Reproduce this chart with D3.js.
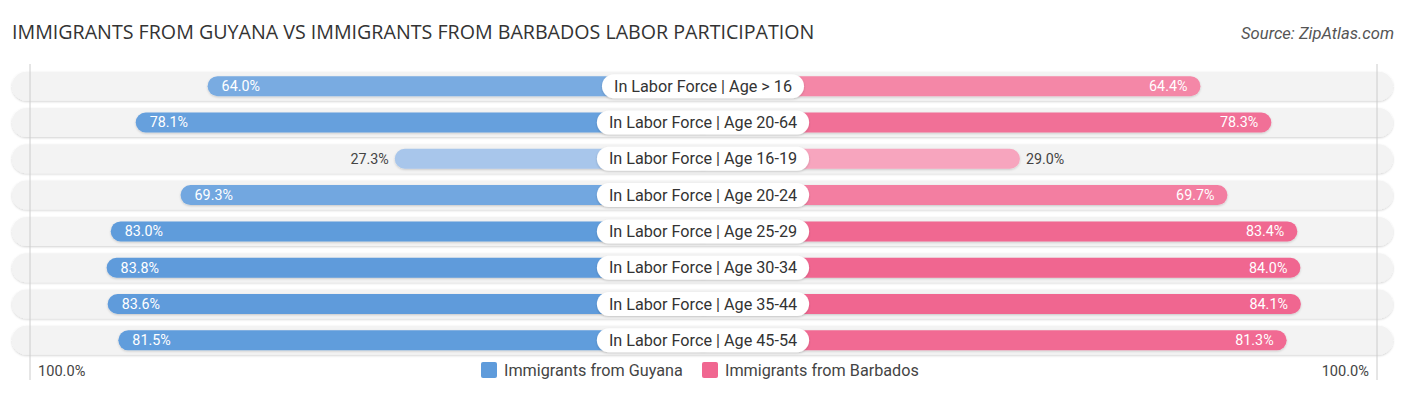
<!DOCTYPE html>
<html><head><meta charset="utf-8">
<script src="https://cdn.jsdelivr.net/npm/d3@7"></script>
<style>body{margin:0;background:#fff;}svg{display:block;}</style>
</head><body>
<script>
const categories = ["In Labor Force | Age > 16","In Labor Force | Age 20-64","In Labor Force | Age 16-19","In Labor Force | Age 20-24","In Labor Force | Age 25-29","In Labor Force | Age 30-34","In Labor Force | Age 35-44","In Labor Force | Age 45-54"];
const guyana = [64.0, 78.1, 27.3, 69.3, 83.0, 83.8, 83.6, 81.5];
const barbados = [64.4, 78.3, 29.0, 69.7, 83.4, 84.0, 84.1, 81.3];
const seriesNames = ["Immigrants from Guyana", "Immigrants from Barbados"];
const axisLabels = ["100.0%", "100.0%"];
const title = "IMMIGRANTS FROM GUYANA VS IMMIGRANTS FROM BARBADOS LABOR PARTICIPATION";
const source = "Source: ZipAtlas.com";

const W = 1406, H = 395, cx = 703;
const svg = d3.select("body").append("svg").attr("width", W).attr("height", H);

const xL = d3.scaleLinear().domain([0, 100]).range([534, 24]);
const xR = d3.scaleLinear().domain([0, 100]).range([872, 1382]);
const y = d3.scaleBand().domain(categories).range([68, 358.5]).paddingInner(0);
const bh = 20, th = 29;

const blue = d3.scaleLinear().domain([25, 65, 84]).range(["#abc8ec", "#78aae1", "#5e9bdb"]);
const pink = d3.scaleLinear().domain([25, 65, 84]).range(["#f7a8c1", "#f486a7", "#f06690"]);

function fitText(t, target, base) {
  const w = t.node().getComputedTextLength();
  t.attr("font-size", base * target / w);
}

// title & source
const tt = svg.append("text").attr("x", 12).attr("y", 39).text(title)
  .attr("font-family", "'Open Sans', Lato, sans-serif").attr("font-size", 17).attr("fill", "#333");
fitText(tt, 803, 17);
const st = svg.append("text").attr("x", 1394).attr("y", 39).attr("text-anchor", "end").text(source)
  .attr("font-family", "Roboto, sans-serif").attr("font-size", 14).attr("font-style", "italic").attr("fill", "#555");
fitText(st, 153, 14);

const defs = svg.append("defs");
const f = defs.append("filter").attr("id", "sh").attr("x", "-10%").attr("y", "-30%").attr("width", "120%").attr("height", "160%");
f.append("feDropShadow").attr("dx", 0).attr("dy", 1).attr("stdDeviation", 1).attr("flood-color", "#000").attr("flood-opacity", 0.18);

const rows = svg.selectAll("g.row").data(categories).join("g").attr("class", "row")
  .attr("transform", d => `translate(0,${y(d) + y.bandwidth() / 2})`);

// tracks
rows.append("rect").attr("x", 12).attr("y", -th / 2).attr("width", 1393 - 12).attr("height", th)
  .attr("rx", th / 2).attr("fill", "#f3f3f3").attr("filter", "url(#sh)");

// vertical guide lines
svg.append("line").attr("x1", 30).attr("x2", 30).attr("y1", 64).attr("y2", 380).attr("stroke", "#ccc").attr("stroke-width", 1);
svg.append("line").attr("x1", 1377).attr("x2", 1377).attr("y1", 64).attr("y2", 380).attr("stroke", "#ccc").attr("stroke-width", 1);

// bars
rows.append("rect").attr("x", (d, i) => xL(guyana[i])).attr("y", -bh / 2)
  .attr("width", (d, i) => cx - xL(guyana[i]) + 10).attr("height", bh).attr("rx", bh / 2)
  .attr("fill", (d, i) => blue(guyana[i])).attr("filter", "url(#sh)");
rows.append("rect").attr("x", cx - 10).attr("y", -bh / 2)
  .attr("width", (d, i) => xR(barbados[i]) - cx + 10).attr("height", bh).attr("rx", bh / 2)
  .attr("fill", (d, i) => pink(barbados[i])).attr("filter", "url(#sh)");

const fmt = v => v.toFixed(1) + "%";
// value labels
rows.append("text").attr("y", 5).attr("font-family", "Roboto, sans-serif").attr("font-size", 14.3)
  .each(function (d, i) {
    const v = guyana[i], inside = v > 40, t = d3.select(this);
    t.text(fmt(v));
    if (inside) t.attr("x", xL(v) + 14).attr("text-anchor", "start").attr("fill", "#fff");
    else t.attr("x", xL(v) - 6).attr("text-anchor", "end").attr("fill", "#444");
  });
rows.append("text").attr("y", 5).attr("font-family", "Roboto, sans-serif").attr("font-size", 14.3)
  .each(function (d, i) {
    const v = barbados[i], inside = v > 40, t = d3.select(this);
    t.text(fmt(v));
    if (inside) t.attr("x", xR(v) - 13).attr("text-anchor", "end").attr("fill", "#fff");
    else t.attr("x", xR(v) + 6).attr("text-anchor", "start").attr("fill", "#444");
  });

// center pills
rows.each(function (d) {
  const g = d3.select(this);
  const pill = g.append("rect").attr("y", -12).attr("height", 24).attr("rx", 12).attr("fill", "#fff").attr("filter", "url(#sh)");
  const t = g.append("text").attr("x", cx).attr("y", 5.5).attr("text-anchor", "middle").text(d)
    .attr("font-family", "Roboto, sans-serif").attr("font-size", 16.2).attr("fill", "#333");
  const w = t.node().getComputedTextLength() + 24;
  pill.attr("x", cx - w / 2).attr("width", w);
});

// axis labels
svg.append("text").attr("x", 38).attr("y", 376).text(axisLabels[0])
  .attr("font-family", "Roboto, sans-serif").attr("font-size", 14.6).attr("fill", "#444");
svg.append("text").attr("x", 1369).attr("y", 376).attr("text-anchor", "end").text(axisLabels[1])
  .attr("font-family", "Roboto, sans-serif").attr("font-size", 14.6).attr("fill", "#444");

// legend
const lg = svg.append("g");
const items = [{name: seriesNames[0], c: "#5e9bdb", x: 481}, {name: seriesNames[1], c: "#f06690", x: 702}];
items.forEach(it => {
  lg.append("rect").attr("x", it.x).attr("y", 362).attr("width", 16).attr("height", 16).attr("rx", 2).attr("fill", it.c);
  lg.append("text").attr("x", it.x + 23).attr("y", 376).text(it.name)
    .attr("font-family", "Roboto, sans-serif").attr("font-size", 16.2).attr("fill", "#444");
});
</script>
</body></html>
